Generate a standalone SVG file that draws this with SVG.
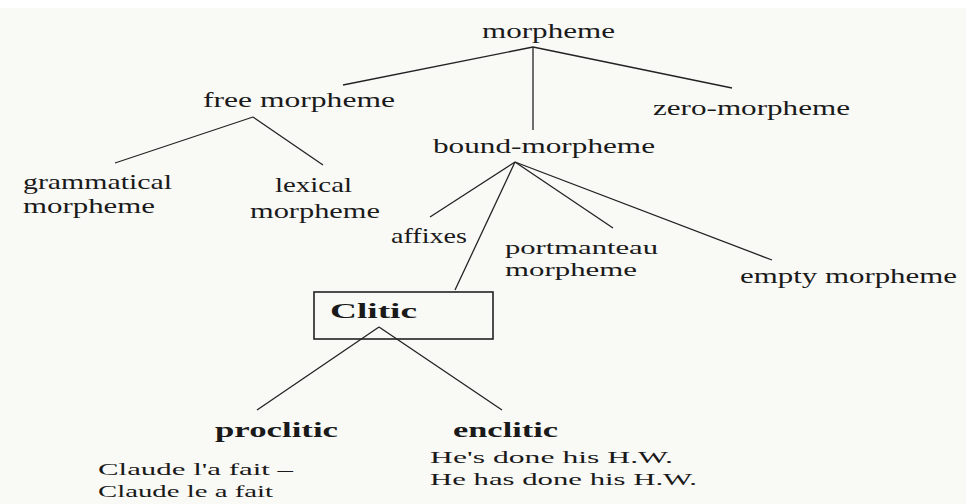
<svg xmlns="http://www.w3.org/2000/svg" width="966" height="504" viewBox="0 0 966 504">
<style>
  text { font-family: "Liberation Serif", "Times New Roman", serif; font-size: 21px; fill: #1a1a1a; }
  .b { font-weight: bold; font-size: 22px; }
  .s { font-size: 17px; }
  .m { font-size: 19px; }
  .conn line { stroke: #222; stroke-width: 1.3; fill: none; }
  .box { fill: none; stroke: #222; stroke-width: 1.6; }
</style>
<rect x="0" y="0" width="966" height="504" fill="#f9f9f6"/>
<rect x="0" y="0" width="966" height="8" fill="#ffffff"/>
<g id="connectors" class="conn">
  <line x1="533" y1="47" x2="343" y2="85"/>
  <line x1="533" y1="47" x2="732" y2="88"/>
  <line x1="533" y1="47" x2="533" y2="130"/>
  <line x1="253" y1="117" x2="115" y2="163"/>
  <line x1="253" y1="117" x2="323" y2="165"/>
  <line x1="515" y1="162" x2="430" y2="217"/>
  <line x1="515" y1="162" x2="455" y2="290"/>
  <line x1="515" y1="162" x2="613" y2="228"/>
  <line x1="515" y1="162" x2="772" y2="260"/>
  <line x1="379" y1="327" x2="257" y2="410"/>
  <line x1="379" y1="327" x2="502" y2="410"/>
</g>
<g id="morpheme"><text x="482" y="38" textLength="133" lengthAdjust="spacingAndGlyphs">morpheme</text></g>
<g id="free-morpheme"><text x="203" y="107" textLength="192" lengthAdjust="spacingAndGlyphs">free morpheme</text></g>
<g id="zero-morpheme"><text x="653" y="115" textLength="197" lengthAdjust="spacingAndGlyphs">zero-morpheme</text></g>
<g id="bound-morpheme"><text x="433" y="153" textLength="222" lengthAdjust="spacingAndGlyphs">bound-morpheme</text></g>
<g id="grammatical-morpheme">
  <text x="23" y="189" textLength="149" lengthAdjust="spacingAndGlyphs">grammatical</text>
  <text x="23" y="213" textLength="132" lengthAdjust="spacingAndGlyphs">morpheme</text>
</g>
<g id="lexical-morpheme">
  <text x="275" y="192" textLength="77" lengthAdjust="spacingAndGlyphs">lexical</text>
  <text x="250" y="218" textLength="130" lengthAdjust="spacingAndGlyphs">morpheme</text>
</g>
<g id="affixes"><text x="391" y="243" textLength="76" lengthAdjust="spacingAndGlyphs">affixes</text></g>
<g id="portmanteau-morpheme">
  <text class="m" x="505" y="254" textLength="153" lengthAdjust="spacingAndGlyphs">portmanteau</text>
  <text class="m" x="505" y="276" textLength="132" lengthAdjust="spacingAndGlyphs">morpheme</text>
</g>
<g id="empty-morpheme"><text x="740" y="283" textLength="217" lengthAdjust="spacingAndGlyphs">empty morpheme</text></g>
<g id="clitic">
  <rect class="box" x="314" y="292" width="179" height="47"/>
  <text class="b" x="330" y="318" textLength="87" lengthAdjust="spacingAndGlyphs">Clitic</text>
</g>
<g id="proclitic">
  <text class="b" x="215" y="437" textLength="123" lengthAdjust="spacingAndGlyphs">proclitic</text>
  <text class="s" x="98" y="475" textLength="195" lengthAdjust="spacingAndGlyphs">Claude l'a fait –</text>
  <text class="s" x="98" y="497" textLength="175" lengthAdjust="spacingAndGlyphs">Claude le a fait</text>
</g>
<g id="enclitic">
  <text class="b" x="453" y="437" textLength="105" lengthAdjust="spacingAndGlyphs">enclitic</text>
  <text class="s" x="430" y="463" textLength="243" lengthAdjust="spacingAndGlyphs">He's done his H.W.</text>
  <text class="s" x="430" y="485" textLength="267" lengthAdjust="spacingAndGlyphs">He has done his H.W.</text>
</g>
</svg>
